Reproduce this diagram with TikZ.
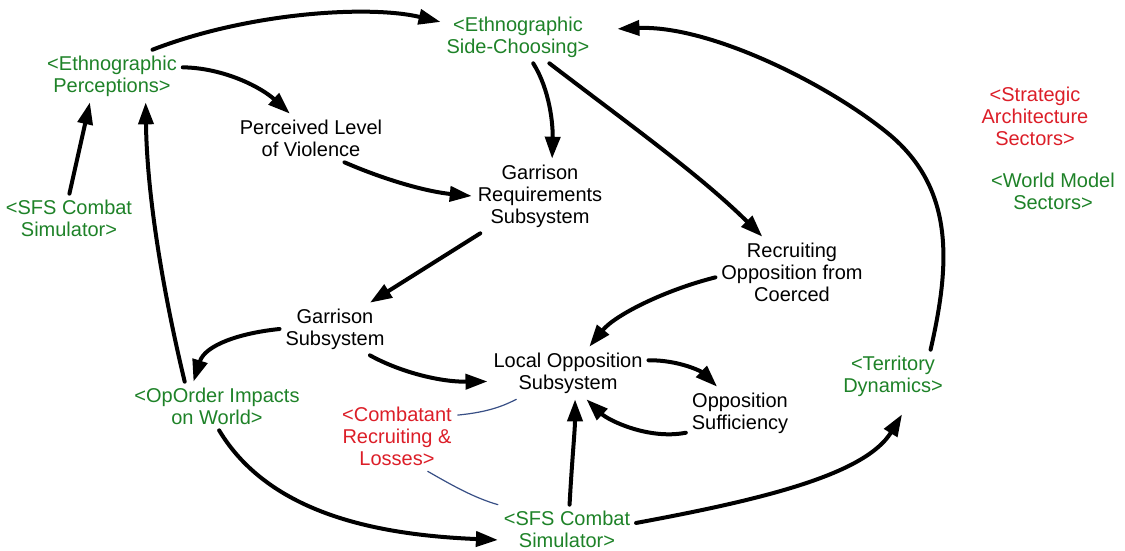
\documentclass[tikz,border=0pt]{standalone}
\usepackage{fontspec}
\setmainfont{Liberation Sans}
\usetikzlibrary{arrows.meta}
\definecolor{cldGreen}{rgb}{0.118,0.510,0.157}
\definecolor{cldRed}{rgb}{0.863,0.118,0.157}
\definecolor{cldBlue}{rgb}{0.220,0.310,0.520}

\begin{document}
\begin{tikzpicture}
% Causal loop diagram, coordinates in image pixels
\def\px{1pt}
\providecommand{\cldArrowWidth}{4pt}
\providecommand{\cldTieWidth}{1.2pt}
\begin{scope}[x=\px, y=-\px, line cap=round, line join=round,
  cldvar/.style={font=\fontsize{20}{22}\selectfont, align=center, inner sep=2pt, outer sep=4pt},
  cldshadow/.style={cldvar, text=cldGreen},
  cldsector/.style={cldvar, text=cldRed},
  cldarrow/.style={-{Triangle[length=22pt,width=15pt]}, line width=\cldArrowWidth},
  cldtie/.style={draw=cldBlue, line width=\cldTieWidth}]
  \useasboundingbox (0,0) rectangle (1125,550);
  % Variables
  \node[cldshadow] (perc) at (112,76) {<Ethnographic\\Perceptions>};
  \node[cldshadow] (side) at (518,37) {<Ethnographic\\Side-Choosing>};
  \node[cldvar] (viol) at (311,138) {Perceived Level\\of Violence};
  \node[cldvar] (greq) at (540,196) {Garrison\\Requirements\\Subsystem};
  \node[cldshadow] (sfsa) at (69,218) {<SFS Combat\\Simulator>};
  \node[cldvar] (recr) at (792,272) {Recruiting\\Opposition from\\Coerced};
  \node[cldsector] (strat) at (1035,116) {<Strategic\\Architecture\\Sectors>};
  \node[cldshadow] (world) at (1053,191) {<World Model\\Sectors>};
  \node[cldvar] (garr) at (335,329) {Garrison\\Subsystem};
  \node[cldvar] (locop) at (568,373) {Local Opposition\\Subsystem};
  \node[cldshadow] (opord) at (217,406) {<OpOrder Impacts\\on World>};
  \node[cldsector] (comb) at (397,436) {<Combatant\\Recruiting \&\\Losses>};
  \node[cldvar] (suff) at (740,413) {Opposition\\Sufficiency};
  \node[cldshadow] (terr) at (893,376) {<Territory\\Dynamics>};
  \node[cldshadow] (sfsb) at (567,529) {<SFS Combat\\Simulator>};
  % Causal links
  \draw[cldarrow] (perc.33) .. controls (250,12) and (370,5) .. (side.169);
  \draw[cldarrow] (perc.7) .. controls (225,68) and (262,88) .. (viol.131);
  \draw[cldarrow] (sfsa.89) -- (perc.230);
  \draw[cldarrow] (opord.143) .. controls (165,300) and (147,200) .. (perc.-38);
  \draw[cldarrow] (viol.-36) .. controls (390,182) and (430,192) .. (greq.west);
  \draw[cldarrow] (side.-60) .. controls (550,90) and (553,125) .. (greq.72);
  \draw[cldarrow] (side.-40) .. controls (630,125) and (700,175) .. (recr.130);
  \draw[cldarrow] (terr.35) .. controls (950,265) and (955,190) .. (890,135)
    .. controls (830,85) and (710,25) .. ([xshift=22pt]side.6);
  \draw[cldarrow] (greq.-148) -- (garr.37);
  \draw[cldarrow] (garr.west) .. controls (240,333) and (205,345) .. (opord.134);
  \draw[cldarrow] (garr.-37) .. controls (400,372) and (440,382) .. (locop.186);
  \draw[cldarrow] (recr.184) .. controls (665,290) and (615,315) .. (locop.51);
  \draw[cldarrow] (locop.9) .. controls (680,360) and (702,372) .. (suff.131);
  \draw[cldarrow] (suff.200) .. controls (648,440) and (608,420) .. (locop.-55);
  \draw[cldarrow] (sfsb.84) .. controls (572,460) and (575,430) .. (locop.-75);
  \draw[cldarrow] (opord.-85) .. controls (270,515) and (380,535) .. (sfsb.189);
  \draw[cldarrow] (sfsb.5) .. controls (760,500) and (865,475) .. ([yshift=-12pt]terr.-71);
  % Shadow ties
  \draw[cldtie] (comb.19) .. controls (490,412) and (505,405) .. (locop.207);
  \draw[cldtie] (comb.-49) .. controls (455,487) and (475,498) .. (sfsb.north west);
\end{scope}
\end{tikzpicture}
\end{document}
